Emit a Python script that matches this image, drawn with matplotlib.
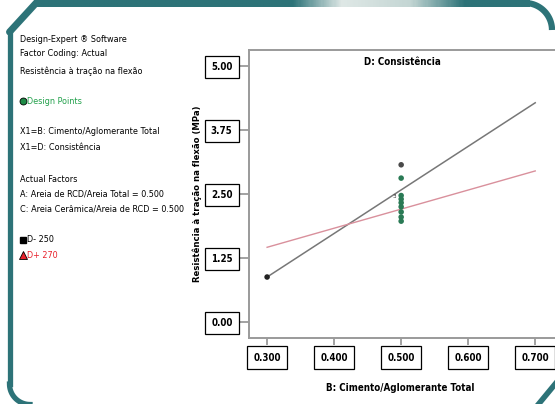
import numpy as np
import matplotlib.pyplot as plt
from matplotlib.colors import LinearSegmentedColormap

# fitted lines (B at the two ends, one line per D level)
b_ends = [0.300, 0.700]
d_minus = [0.88, 4.28]
d_plus = [1.46, 2.95]

# design points
pts_b = [0.300, 0.500, 0.500, 0.500, 0.500, 0.500, 0.500, 0.500, 0.500, 0.500]
pts_y = [0.88, 3.07, 2.81, 2.47, 2.40, 2.33, 2.25, 2.15, 2.05, 1.97]
pts_c = ['#222222', '#4a4a4a', '#2a7a55', '#2a7a55', '#2a7a55', '#2a7a55',
         '#2a7a55', '#2a7a55', '#2a7a55', '#2a7a55']

x_ticks = [0.3, 0.4, 0.5, 0.6, 0.7]
y_ticks = [0.00, 1.25, 2.50, 3.75, 5.00]

info_lines = [
    ("Design-Expert ® Software", 39, 'black'),
    ("Factor Coding: Actual", 54, 'black'),
    ("Resistência à tração na flexão", 71, 'black'),
    ("Design Points", 101, '#22a04b'),
    ("X1=B: Cimento/Aglomerante Total", 132, 'black'),
    ("X1=D: Consistência", 147, 'black'),
    ("Actual Factors", 179, 'black'),
    ("A: Areia de RCD/Areia Total = 0.500", 194, 'black'),
    ("C: Areia Cerâmica/Areia de RCD = 0.500", 209, 'black'),
    ("D- 250", 240, 'black'),
    ("D+ 270", 256, '#e8202a'),
]

plt.rcParams['font.family'] = ['DejaVu Sans']
plt.rcParams['font.stretch'] = 'condensed'
TEAL = '#2d7378'

fig = plt.figure(figsize=(5.55, 4.04), dpi=100)
W, H = 555, 404

# background frame, pixel coordinates
bg = fig.add_axes([0, 0, 1, 1], zorder=-1)
bg.set_xlim(0, W)
bg.set_ylim(H, 0)
bg.axis('off')

grad = LinearSegmentedColormap.from_list(
    'g', [(0, TEAL), (0.52, TEAL), (0.62, '#dfe8e6'), (0.76, '#c4d6d4'),
          (0.87, TEAL), (1, TEAL)])
gx = np.linspace(0, 1, 300)[None, :]
bg.imshow(gx, cmap=grad, extent=(36, 530, 7, 0), aspect='auto', zorder=1)
# rounded top-right corner
th = np.linspace(-np.pi / 2, 0, 30)
bg.plot(525 + 27 * np.cos(th), 30 + 27 * np.sin(th), color=TEAL, lw=4.5,
        solid_capstyle='butt', zorder=2)
# chamfer, left side, rounded bottom-left
bg.plot([37, 9.5], [2, 32], color=TEAL, lw=5, solid_capstyle='round', zorder=2)
bg.plot([9.5, 9.5], [32, 384], color=TEAL, lw=3.8, zorder=2)
t = np.linspace(0, np.pi / 2, 30)
bg.plot(30 - 20.5 * np.cos(t), 384 + 20.5 * np.sin(t), color=TEAL, lw=3.8, zorder=2)
# bottom-right diagonal
bg.plot([537, 556], [406, 383], color=TEAL, lw=4, zorder=2)

# info panel
for txt, y, col in info_lines:
    x = 20
    if txt == "Design Points":
        bg.plot(23, y, 'o', ms=5, mfc='#1d8a45', mec='black', mew=0.6)
        x = 27
    elif txt == "D- 250":
        bg.plot(23, y, 's', ms=5, mfc='black', mec='black')
        x = 27
    elif txt == "D+ 270":
        bg.plot(23, y - 1, '^', ms=5.5, mfc='#e8202a', mec='black', mew=0.6)
        x = 27
    bg.text(x, y, txt, fontsize=6.5, color=col, va='center', ha='left')

# main plot
ax = fig.add_axes([249 / W, 66 / H, 307 / W, 288 / H])
ax.set_xlim(0.273, 0.731)
ax.set_ylim(-0.31, 5.31)
ax.plot(b_ends, d_minus, color='#777777', lw=1.1, zorder=2)
ax.plot(b_ends, d_plus, color='#d9909c', lw=1.0, zorder=2)
ax.scatter(pts_b, pts_y, s=16, c=pts_c, zorder=3, linewidths=0)
ax.text(0.493, 2.45, '3', fontsize=4.5, color='#333333', ha='right', va='center')

for s in ['left', 'bottom', 'top']:
    ax.spines[s].set_color('#9a9a9a')
    ax.spines[s].set_linewidth(1.4)
ax.spines['right'].set_visible(False)
ax.tick_params(axis='y', length=7.2, width=1.3, color='#9a9a9a', pad=4.6)
ax.tick_params(axis='x', length=5, width=1.3, color='#9a9a9a', pad=5.6)
ax.set_xticks(x_ticks)
ax.set_xticklabels([f"{v:.3f}" for v in x_ticks], fontsize=7, fontweight='bold')
ax.set_yticks(y_ticks)
ax.set_yticklabels([f"{v:.2f}" for v in y_ticks], fontsize=7, fontweight='bold')
for lbl in ax.get_yticklabels() + ax.get_xticklabels():
    lbl.set_bbox(dict(boxstyle='square,pad=0.65', fc='white', ec='black', lw=0.9))

ax.text(0.5, 0.958, "D: Consistência", transform=ax.transAxes, ha='center',
        va='center', fontsize=7, fontweight='bold')
fig.text(400 / W, 1 - 388 / H, "B: Cimento/Aglomerante Total", ha='center',
         va='center', fontsize=7, fontweight='bold')
fig.text(197 / W, 1 - 194 / H, "Resistência à tração na flexão (MPa)", ha='center',
         va='center', rotation=90, fontsize=6.8, fontweight='bold')

fig.savefig('out.png', dpi=100)
